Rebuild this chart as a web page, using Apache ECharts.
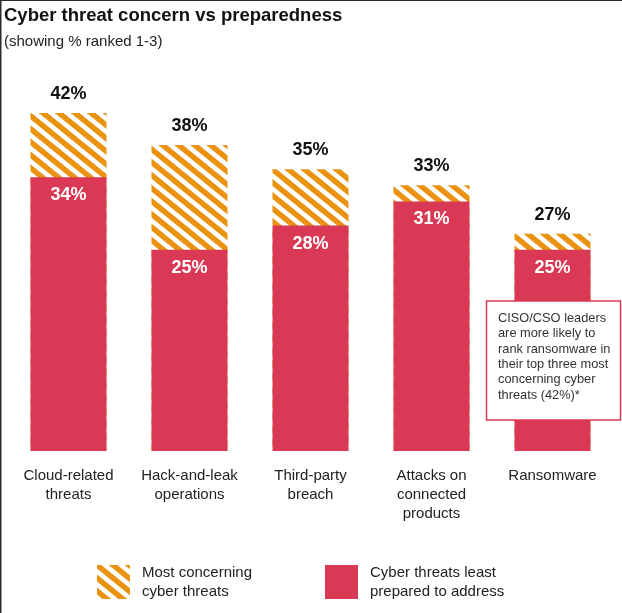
<!DOCTYPE html>
<html lang="en" style="height: 100%">
<head>
    <meta charset="UTF-8">
    <title>Cyber threat concern vs preparedness</title>
    <script src="https://cdn.jsdelivr.net/npm/echarts@6/dist/echarts.min.js"></script>
    <style>
        html, body { margin: 0; padding: 0; background: #fff; }
    </style>
</head>
<body style="height: 100%">
<div id="main" style="width: 622px; height: 613px"></div>
<script>
    var categories = ['Cloud-related\nthreats', 'Hack-and-leak\noperations', 'Third-party\nbreach', 'Attacks on\nconnected\nproducts', 'Ransomware'];
    var concerning = [42, 38, 35, 33, 27];
    var leastPrepared = [34, 25, 28, 31, 25];
    var seriesNames = ['Most concerning\ncyber threats', 'Cyber threats least\nprepared to address'];
    var note = 'CISO/CSO leaders\nare more likely to\nrank ransomware in\ntheir top three most\nconcerning cyber\nthreats (42%)*';

    var orange = '#E99310';
    var red = '#D93954';
    var font = '"Liberation Sans", Arial, Helvetica, sans-serif';

    // diagonal stripe tile for the hatched bars
    function stripes() {
        var w = 16, h = 13;
        var c = document.createElement('canvas');
        c.width = w;
        c.height = h;
        var ctx = c.getContext('2d');
        ctx.fillStyle = '#fff';
        ctx.fillRect(0, 0, w, h);
        ctx.strokeStyle = orange;
        ctx.lineWidth = 5.5;
        for (var k = -2; k <= 2; k++) {
            // run each line well past the tile edges so the ends join up
            ctx.beginPath();
            ctx.moveTo(k * w - w, -h);
            ctx.lineTo(k * w + 2 * w, 2 * h);
            ctx.stroke();
        }
        return c;
    }
    var hatch = {image: stripes(), repeat: 'repeat'};

    var myChart = echarts.init(document.getElementById('main'), null, {renderer: 'canvas'});
    var option = {
        animation: false,
        backgroundColor: '#fff',
        title: [
            {
                text: 'Cyber threat concern vs preparedness',
                left: 4, top: 6, padding: 0,
                textStyle: {fontFamily: font, fontSize: 18.5, fontWeight: 'bold', color: '#111'}
            },
            {
                text: '(showing % ranked 1-3)',
                left: 4, top: 34, padding: 0,
                textStyle: {fontFamily: font, fontSize: 15, fontWeight: 'normal', color: '#222'}
            }
        ],
        legend: [
            {
                data: [seriesNames[0]],
                left: 97, top: 563, padding: 0,
                itemWidth: 33, itemHeight: 34,
                icon: 'rect',
                selectedMode: false,
                textStyle: {fontFamily: font, fontSize: 15, lineHeight: 19, color: '#222', padding: [0, 0, 0, 7]}
            },
            {
                data: [seriesNames[1]],
                left: 325, top: 563, padding: 0,
                itemWidth: 33, itemHeight: 34,
                icon: 'rect',
                selectedMode: false,
                textStyle: {fontFamily: font, fontSize: 15, lineHeight: 19, color: '#222', padding: [0, 0, 0, 7]}
            }
        ],
        grid: {left: 8, right: 9, top: 48.5, bottom: 162, containLabel: false},
        xAxis: {
            type: 'category',
            data: categories,
            axisLine: {show: false},
            axisTick: {show: false},
            axisLabel: {
                interval: 0,
                margin: 15,
                fontFamily: font,
                fontSize: 15,
                lineHeight: 19,
                color: '#222'
            }
        },
        yAxis: {
            type: 'value',
            min: 0,
            max: 50,
            show: false
        },
        series: [
            {
                name: seriesNames[0],
                type: 'bar',
                data: concerning,
                barWidth: 76,
                barGap: '-100%',
                itemStyle: {color: hatch},
                label: {
                    show: true,
                    position: 'top',
                    distance: 10,
                    formatter: '{c}%',
                    fontFamily: font,
                    fontSize: 18,
                    fontWeight: 'bold',
                    color: '#111'
                }
            },
            {
                name: seriesNames[1],
                type: 'bar',
                data: leastPrepared,
                barWidth: 76,
                barGap: '-100%',
                itemStyle: {color: red},
                label: {
                    show: true,
                    position: 'insideTop',
                    distance: 9,
                    formatter: '{c}%',
                    fontFamily: font,
                    fontSize: 18,
                    fontWeight: 'bold',
                    color: '#fff'
                }
            }
        ],
        graphic: [
            {
                type: 'rect',
                shape: {x: 486.5, y: 301, width: 134, height: 119},
                style: {fill: '#fff', stroke: red, lineWidth: 1.5},
                z: 100
            },
            {
                type: 'text',
                x: 498, y: 310.5,
                style: {
                    text: note,
                    fontFamily: font,
                    fontSize: 12.8,
                    lineHeight: 15.4,
                    fill: '#333'
                },
                z: 101
            },
            {
                type: 'rect',
                shape: {x: 0, y: 0, width: 622, height: 1},
                style: {fill: '#2a2a2a'},
                z: 102
            },
            {
                type: 'rect',
                shape: {x: 0, y: 0, width: 1.5, height: 613},
                style: {fill: '#2a2a2a'},
                z: 102
            }
        ]
    };
    myChart.setOption(option);
</script>
</body>
</html>
